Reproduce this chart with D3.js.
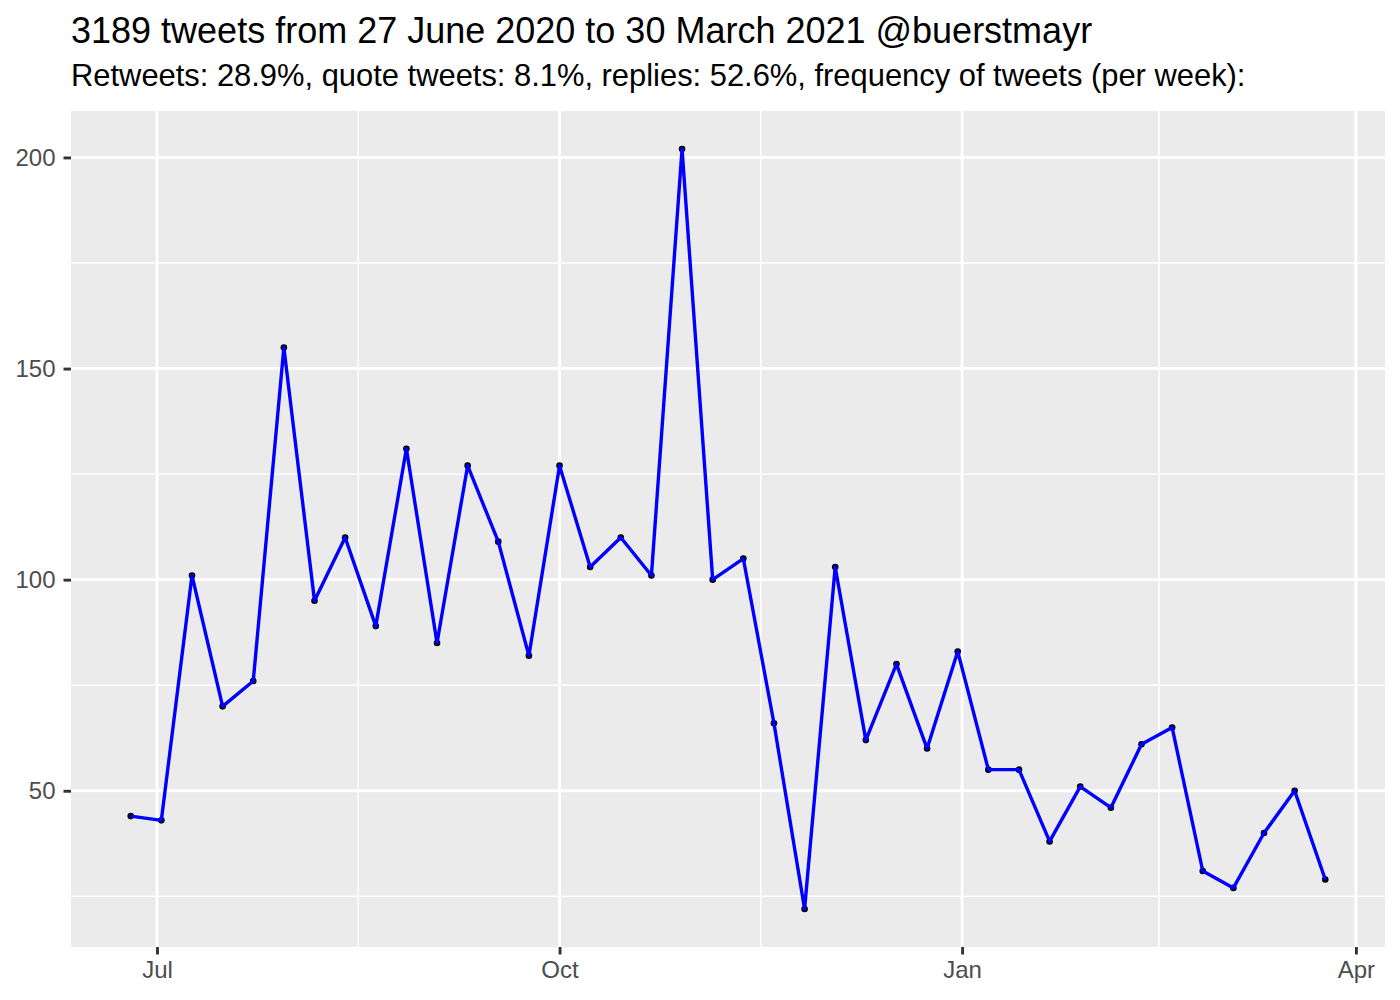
<!DOCTYPE html>
<html>
<head>
<meta charset="utf-8">
<script src="https://cdn.jsdelivr.net/npm/d3@7"></script>
<style>
  html, body { margin: 0; padding: 0; background: #fff; }
  svg { display: block; font-family: "Liberation Sans", Arial, Helvetica, sans-serif; }
</style>
</head>
<body>
<svg id="chart" width="1400" height="1000"></svg>
<script>
// ---- data ----
const weeks = [
  "2020-06-25","2020-07-02","2020-07-09","2020-07-16","2020-07-23","2020-07-30",
  "2020-08-06","2020-08-13","2020-08-20","2020-08-27","2020-09-03","2020-09-10",
  "2020-09-17","2020-09-24","2020-10-01","2020-10-08","2020-10-15","2020-10-22",
  "2020-10-29","2020-11-05","2020-11-12","2020-11-19","2020-11-26","2020-12-03",
  "2020-12-10","2020-12-17","2020-12-24","2020-12-31","2021-01-07","2021-01-14",
  "2021-01-21","2021-01-28","2021-02-04","2021-02-11","2021-02-18","2021-02-25",
  "2021-03-04","2021-03-11","2021-03-18","2021-03-25"
];
const tweetCounts = [
  44, 43, 101, 70, 76, 155,
  95, 110, 89, 131, 85, 127,
  109, 82, 127, 103, 110, 101,
  202, 100, 105, 66, 22, 103,
  62, 80, 60, 83, 55, 55,
  38, 51, 46, 61, 65, 31,
  27, 40, 50, 29
];
const xTickDates = ["2020-07-01", "2020-10-01", "2021-01-01", "2021-04-01"];
const xTickLabels = ["Jul", "Oct", "Jan", "Apr"];
const yTicks = [50, 100, 150, 200];
const yMinorTicks = [25, 75, 125, 175];
const titleText = "3189 tweets from 27 June 2020 to 30 March 2021 @buerstmayr";
const subtitleText = "Retweets: 28.9%, quote tweets: 8.1%, replies: 52.6%, frequency of tweets (per week):";

// ---- layout ----
const panel = { left: 71, right: 1385, top: 111, bottom: 947 };
const parse = d3.utcParse("%Y-%m-%d");
const data = weeks.map((w, i) => ({ date: parse(w), value: tweetCounts[i] }));

const svg = d3.select("#chart");

// scales with ggplot-like 5% expansion
const xExt = d3.extent(data, d => d.date);
const xPad = (xExt[1] - xExt[0]) * 0.05;
const x = d3.scaleUtc()
  .domain([new Date(+xExt[0] - xPad), new Date(+xExt[1] + xPad)])
  .range([panel.left, panel.right]);

const yExt = d3.extent(data, d => d.value);
const yPad = (yExt[1] - yExt[0]) * 0.05;
const y = d3.scaleLinear()
  .domain([yExt[0] - yPad, yExt[1] + yPad])
  .range([panel.bottom, panel.top]);

// panel background
svg.append("rect")
  .attr("x", panel.left).attr("y", panel.top)
  .attr("width", panel.right - panel.left)
  .attr("height", panel.bottom - panel.top)
  .attr("fill", "#EBEBEB");

const xMajor = xTickDates.map(parse);
const xMinor = [];
for (let i = 0; i < xMajor.length - 1; i++) {
  xMinor.push(new Date((+xMajor[i] + +xMajor[i + 1]) / 2));
}

const grid = svg.append("g");
// minor grid
grid.selectAll(".ymin").data(yMinorTicks).join("line")
  .attr("x1", panel.left).attr("x2", panel.right)
  .attr("y1", d => y(d)).attr("y2", d => y(d))
  .attr("stroke", "#fff").attr("stroke-width", 1.45);
grid.selectAll(".xmin").data(xMinor).join("line")
  .attr("y1", panel.top).attr("y2", panel.bottom)
  .attr("x1", d => x(d)).attr("x2", d => x(d))
  .attr("stroke", "#fff").attr("stroke-width", 1.45);
// major grid
grid.selectAll(".ymaj").data(yTicks).join("line")
  .attr("x1", panel.left).attr("x2", panel.right)
  .attr("y1", d => y(d)).attr("y2", d => y(d))
  .attr("stroke", "#fff").attr("stroke-width", 2.9);
grid.selectAll(".xmaj").data(xMajor).join("line")
  .attr("y1", panel.top).attr("y2", panel.bottom)
  .attr("x1", d => x(d)).attr("x2", d => x(d))
  .attr("stroke", "#fff").attr("stroke-width", 2.9);

// points (drawn under the line)
svg.append("g").selectAll("circle").data(data).join("circle")
  .attr("cx", d => x(d.date))
  .attr("cy", d => y(d.value))
  .attr("r", 3.3)
  .attr("fill", "#000");

// line
const line = d3.line().x(d => x(d.date)).y(d => y(d.value));
svg.append("path")
  .datum(data)
  .attr("d", line)
  .attr("fill", "none")
  .attr("stroke", "#0000FF")
  .attr("stroke-width", 3.4)
  .attr("stroke-linejoin", "round");

// axes
const xAxis = d3.axisBottom(x)
  .tickValues(xMajor)
  .tickFormat((d, i) => xTickLabels[i])
  .tickSize(7.5)
  .tickPadding(6);
const gx = svg.append("g")
  .attr("transform", `translate(0,${panel.bottom})`)
  .call(xAxis);
gx.select(".domain").remove();
gx.selectAll(".tick line").attr("stroke", "#333333").attr("stroke-width", 2.9);
gx.selectAll(".tick text")
  .attr("fill", "#4D4D4D")
  .attr("font-size", 24)
  .attr("font-family", "'Liberation Sans', Arial, sans-serif");

const yAxis = d3.axisLeft(y)
  .tickValues(yTicks)
  .tickFormat(d3.format("d"))
  .tickSize(7.5)
  .tickPadding(8);
const gy = svg.append("g")
  .attr("transform", `translate(${panel.left},0)`)
  .call(yAxis);
gy.select(".domain").remove();
gy.selectAll(".tick line").attr("stroke", "#333333").attr("stroke-width", 2.9);
gy.selectAll(".tick text")
  .attr("fill", "#4D4D4D")
  .attr("font-size", 24)
  .attr("font-family", "'Liberation Sans', Arial, sans-serif");

// titles
svg.append("text")
  .attr("x", panel.left).attr("y", 43)
  .attr("font-size", 36)
  .attr("fill", "#000")
  .text(titleText);
svg.append("text")
  .attr("x", panel.left).attr("y", 86)
  .attr("font-size", 30.9)
  .attr("fill", "#000")
  .text(subtitleText);
</script>
</body>
</html>
